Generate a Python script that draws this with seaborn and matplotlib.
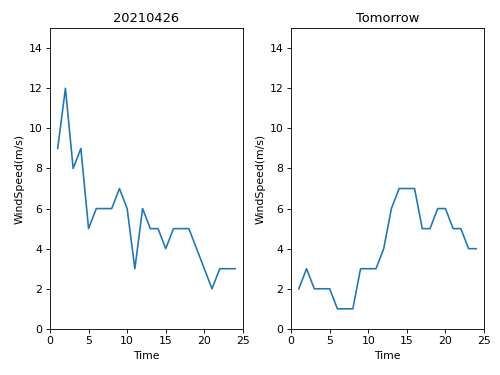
import matplotlib.pyplot as plt
import pandas as pd
import seaborn as sns

hours = list(range(1, 25))
speed_today = [9, 12, 8, 9, 5, 6, 6, 6, 7, 6, 3, 6, 5, 5, 4, 5, 5, 5, 4, 3, 2, 3, 3, 3]
speed_tomorrow = [2, 3, 2, 2, 2, 1, 1, 1, 3, 3, 3, 4, 6, 7, 7, 7, 5, 5, 6, 6, 5, 5, 4, 4]
titles = ["20210426", "Tomorrow"]

fig, axes = plt.subplots(1, 2, figsize=(6.4, 4.8), dpi=78.125)
fig.subplots_adjust(left=0.1, right=0.968, top=0.925, bottom=0.123, wspace=0.25)

for ax, speeds, title in zip(axes, [speed_today, speed_tomorrow], titles):
    df = pd.DataFrame({"Time": hours, "WindSpeed": speeds})
    sns.lineplot(data=df, x="Time", y="WindSpeed", ax=ax, color="#1f77b4")
    ax.set_title(title)
    ax.set_xlabel("Time")
    ax.set_ylabel("WindSpeed(m/s)")
    ax.set_xlim(0, 25)
    ax.set_ylim(0, 15)
    ax.set_xticks(range(0, 26, 5))
    ax.set_yticks(range(0, 15, 2))

fig.savefig("out.png")
